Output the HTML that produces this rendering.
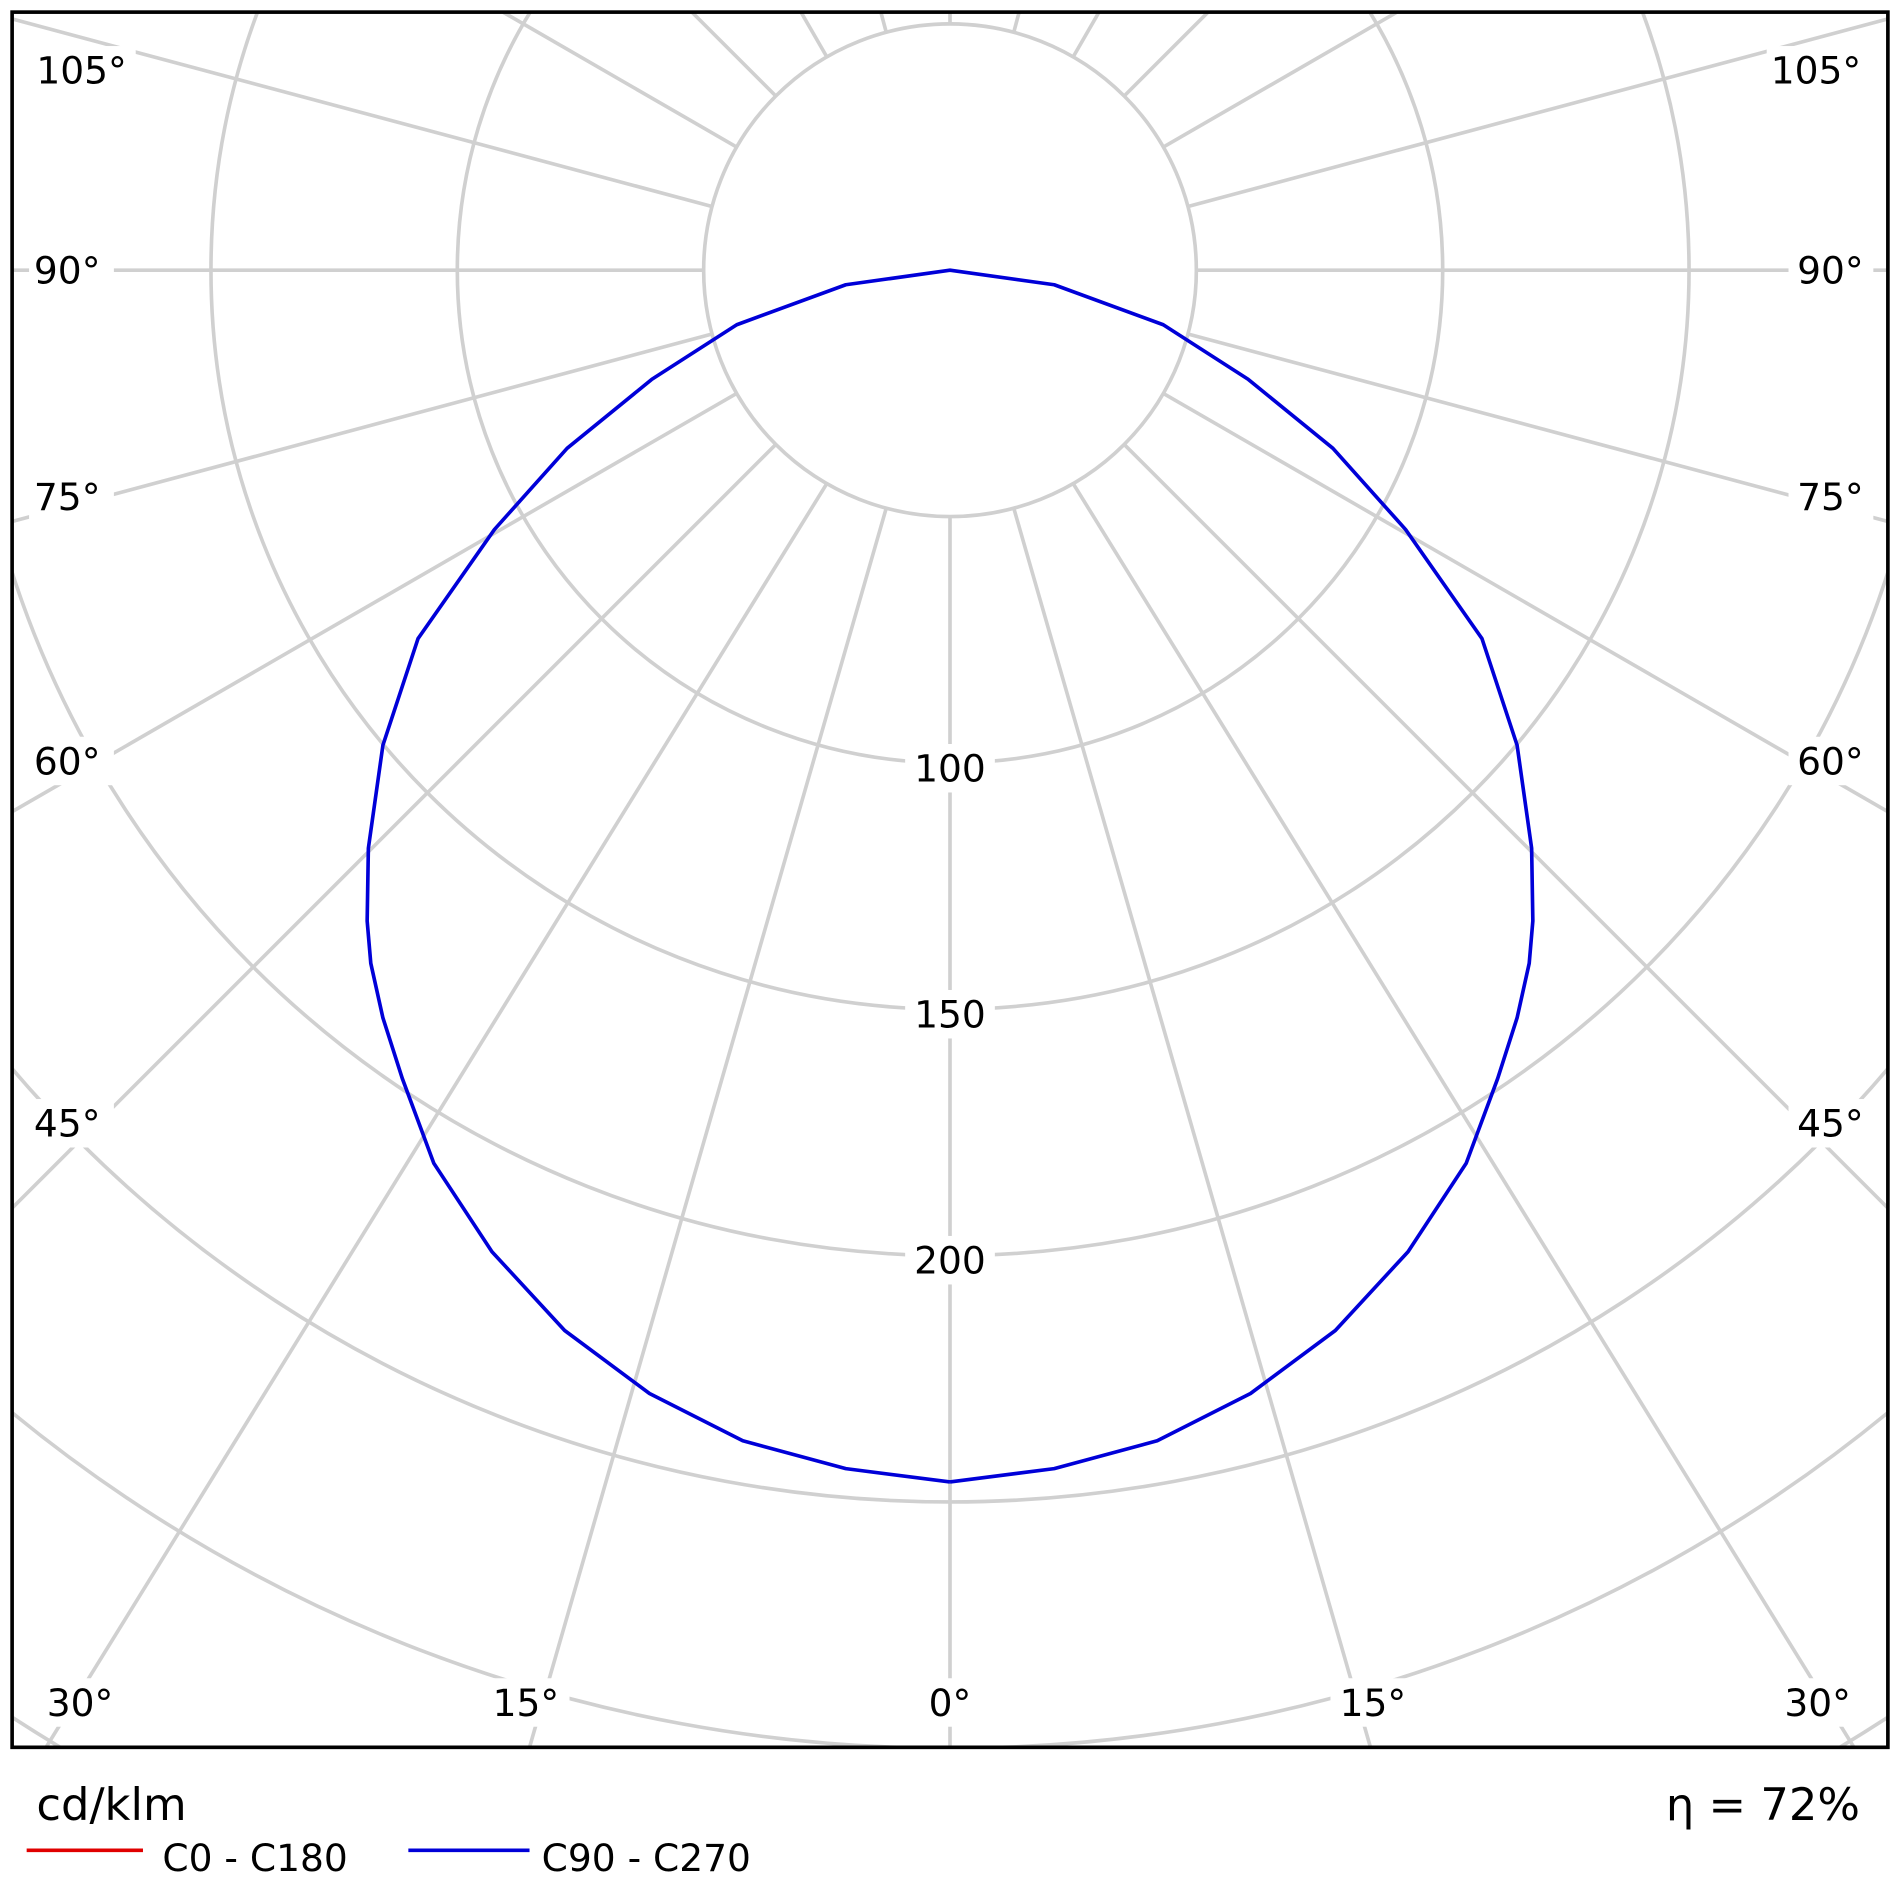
<!DOCTYPE html>
<html><head><meta charset="utf-8"><style>
html,body{margin:0;padding:0;background:#fff;overflow:hidden;}
svg{display:block;}
text{font-family:"DejaVu Sans","Liberation Sans",sans-serif;fill:#000;}
</style></head><body>
<svg id="s" width="1900" height="1900" viewBox="0 0 1568 1568" xmlns="http://www.w3.org/2000/svg">
<defs><clipPath id="c"><rect x="10" y="10" width="1548" height="1432"/></clipPath></defs>
<rect width="1568" height="1568" fill="#fff"/>
<g id="grid" clip-path="url(#c)" stroke="#d0d0d0" stroke-width="3" fill="none"></g>
<g clip-path="url(#c)">
<polyline id="curve" fill="none" stroke="#0000d8" stroke-width="3" stroke-linejoin="round"/>
</g>
<g fill="#fff">
<rect x="24" y="38" width="88" height="40"/><rect x="24" y="203" width="70" height="40"/>
<rect x="24" y="390" width="70" height="40"/><rect x="24" y="608" width="70" height="40"/>
<rect x="24" y="907" width="70" height="40"/>
<rect x="1458" y="38" width="88" height="40"/><rect x="1476" y="203" width="70" height="40"/>
<rect x="1476" y="390" width="70" height="40"/><rect x="1476" y="608" width="70" height="40"/>
<rect x="1476" y="907" width="70" height="40"/>
<rect x="747" y="614" width="74" height="40"/><rect x="747" y="817" width="74" height="40"/>
<rect x="747" y="1020" width="74" height="40"/>
<rect x="30" y="1385" width="70" height="40"/><rect x="400" y="1385" width="70" height="40"/>
<rect x="759" y="1385" width="50" height="40"/><rect x="1098" y="1385" width="70" height="40"/>
<rect x="1466" y="1385" width="70" height="40"/>
</g>
<g font-size="31">
<text x="30" y="69">105°</text><text x="28" y="234">90°</text><text x="28" y="421">75°</text>
<text x="28" y="639">60°</text><text x="28" y="938">45°</text>
<text x="1536" y="69" text-anchor="end">105°</text><text x="1538" y="234" text-anchor="end">90°</text>
<text x="1538" y="421" text-anchor="end">75°</text><text x="1538" y="639" text-anchor="end">60°</text>
<text x="1538" y="938" text-anchor="end">45°</text>
<text x="784" y="645" text-anchor="middle">100</text>
<text x="784" y="848" text-anchor="middle">150</text>
<text x="784" y="1051" text-anchor="middle">200</text>
<text x="66" y="1416" text-anchor="middle">30°</text>
<text x="434" y="1416" text-anchor="middle">15°</text>
<text x="784" y="1416" text-anchor="middle">0°</text>
<text x="1133" y="1416" text-anchor="middle">15°</text>
<text x="1500" y="1416" text-anchor="middle">30°</text>
</g>
<rect x="10" y="10" width="1548" height="1432" fill="none" stroke="#000" stroke-width="3"/>
<text x="30" y="1502" font-size="37">cd/klm</text>
<text x="1535" y="1502" font-size="37" text-anchor="end">η = 72%</text>
<line x1="22" y1="1527" x2="118" y2="1527" stroke="#e00000" stroke-width="3"/>
<text x="134" y="1544" font-size="31">C0 - C180</text>
<line x1="337" y1="1527" x2="437" y2="1527" stroke="#0000d8" stroke-width="3"/>
<text x="447" y="1544" font-size="31">C90 - C270</text>
</svg>
<script>
var cx=784,cy=223,u=203.3,g=document.getElementById('grid'),ns='http://www.w3.org/2000/svg';
for(var k=1;k<=8;k++){var c=document.createElementNS(ns,'circle');c.setAttribute('cx',cx);c.setAttribute('cy',cy);c.setAttribute('r',u*k);g.appendChild(c);}
var lab={15:[437,1442],30:[38,1442]};
function ln(x1,y1,x2,y2){var l=document.createElementNS(ns,'line');l.setAttribute('x1',x1);l.setAttribute('y1',y1);l.setAttribute('x2',x2);l.setAttribute('y2',y2);g.appendChild(l);}
for(var a=0;a<360;a+=15){
 var t=a*Math.PI/180,sx=-Math.sin(t),sy=Math.cos(t);
 var x1=cx+u*sx,y1=cy+u*sy;
 var ang=a<=180?a:360-a, side=a<=180?-1:1;
 if(lab[ang]){var L=lab[ang],lx=side<0?L[0]:1568-L[0],ly=L[1];
  var dx=lx-x1,dy=ly-y1,d=Math.sqrt(dx*dx+dy*dy);ln(x1,y1,x1+dx/d*2200,y1+dy/d*2200);}
 else ln(x1,y1,cx+2200*sx,cy+2200*sy);
}
var R=[[784,1223],[870,1212],[955,1189],[1032,1150],[1102,1098],[1162,1033],[1210,960],[1236,890],[1252,840],[1262,795],[1265,760],[1264,700],[1252,615],[1223,527],[1160,437],[1100,370],[1030,313],[960,268],[870,235],[784,223]];
var pts=[];for(var i=0;i<R.length;i++)pts.push(R[i].join(','));
for(var i=R.length-2;i>=0;i--)pts.push((1568-R[i][0])+','+R[i][1]);
document.getElementById('curve').setAttribute('points',pts.join(' '));
</script>
</body></html>
